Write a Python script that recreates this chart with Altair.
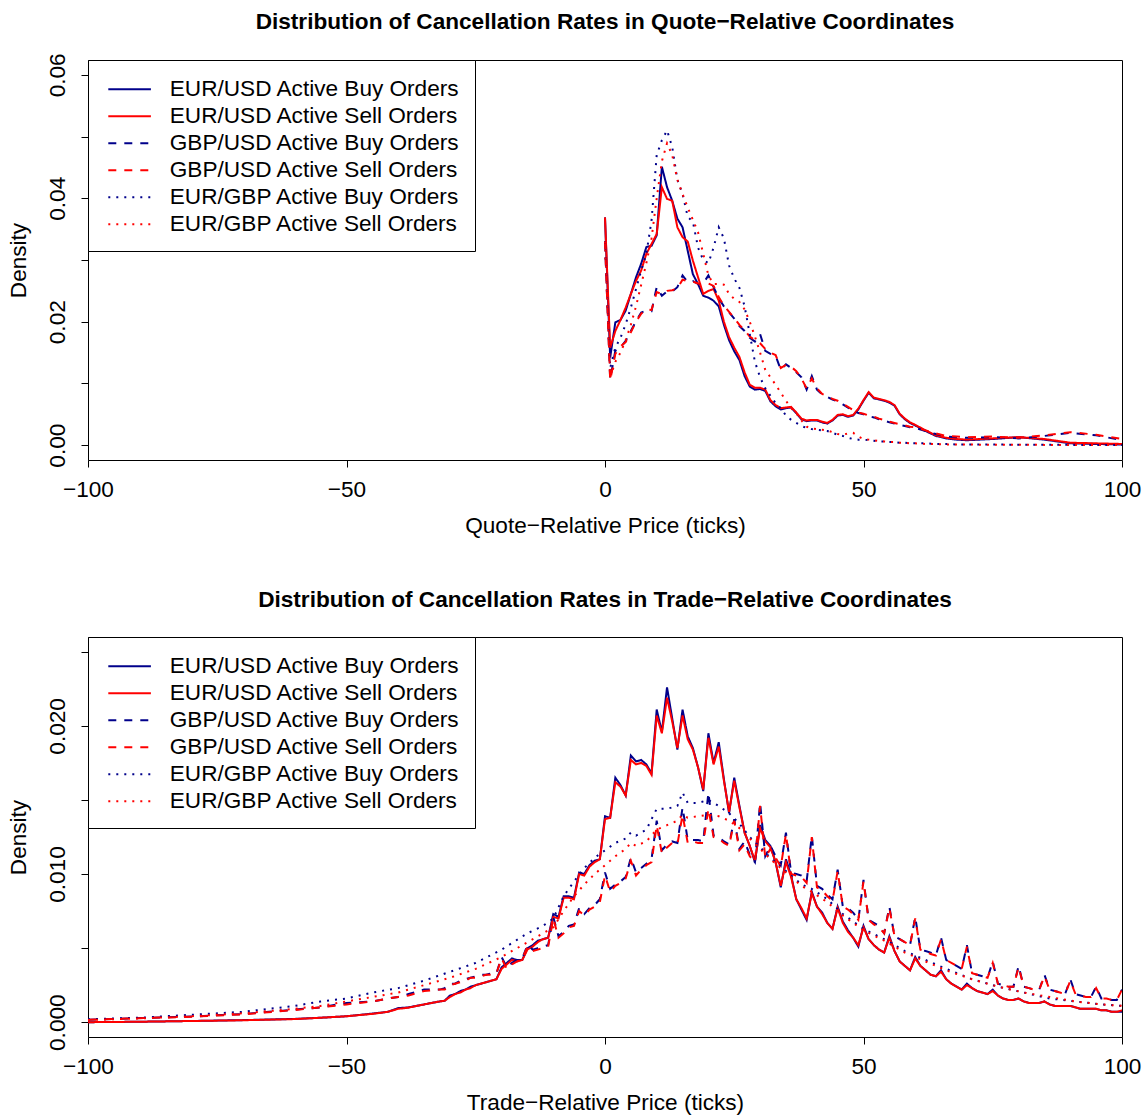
import altair as alt
import pandas as pd

SERIES = [
    "EUR/USD Active Buy Orders",
    "EUR/USD Active Sell Orders",
    "GBP/USD Active Buy Orders",
    "GBP/USD Active Sell Orders",
    "EUR/GBP Active Buy Orders",
    "EUR/GBP Active Sell Orders",
]
COLORS = ["#00008B", "#FF0000", "#00008B", "#FF0000", "#00008B", "#FF0000"]
DASHES = [[1, 0], [1, 0], [8, 8], [8, 8], [2, 6], [2, 6]]

# ---------------- Quote-relative panel ----------------
QX = [0, 1, 2, 3, 4, 5, 6, 7, 8, 9, 10, 11, 12, 13, 14, 15, 16, 17, 18, 19,
      20, 21, 22, 23, 24, 25, 26, 27, 28, 29, 30, 31, 32, 33, 34, 35, 36, 37, 38, 39,
      40, 41, 42, 43, 44, 45, 46, 47, 48, 49, 50, 51, 52, 53, 54, 55, 56, 57, 58, 59,
      60, 62, 64, 66, 68, 70, 75, 80, 85, 90, 95, 100]

q_eurusd_buy = [0.0369, 0.0142, 0.0199, 0.0203, 0.0218, 0.0245, 0.0272, 0.0294, 0.0321, 0.0323,
                0.0340, 0.0451, 0.0418, 0.0396, 0.0367, 0.0353, 0.0315, 0.0277, 0.0261, 0.0242,
                0.0239, 0.0234, 0.0225, 0.0195, 0.0170, 0.0152, 0.0138, 0.0112, 0.0095, 0.0090,
                0.0091, 0.0088, 0.0071, 0.0063, 0.0058, 0.0060, 0.0061, 0.0052, 0.0042, 0.0039,
                0.0040, 0.0040, 0.0037, 0.0035, 0.0040, 0.0048, 0.0049, 0.0046, 0.0048, 0.0058,
                0.0072, 0.0085, 0.0076, 0.0074, 0.0072, 0.0069, 0.0064, 0.0050, 0.0042, 0.0036,
                0.0032, 0.0023, 0.0015, 0.0011, 0.0009, 0.0008, 0.0010, 0.0013, 0.0009, 0.0003, 0.0002, 0.0001]
q_eurusd_sell = [0.0369, 0.0158, 0.0185, 0.0203, 0.0223, 0.0245, 0.0266, 0.0283, 0.0310, 0.0326,
                 0.0342, 0.0418, 0.0399, 0.0396, 0.0353, 0.0337, 0.0330, 0.0299, 0.0272, 0.0245,
                 0.0250, 0.0253, 0.0234, 0.0200, 0.0175, 0.0158, 0.0143, 0.0118, 0.0098, 0.0093,
                 0.0093, 0.0090, 0.0073, 0.0065, 0.0060, 0.0061, 0.0062, 0.0053, 0.0043, 0.0040,
                 0.0041, 0.0041, 0.0038, 0.0036, 0.0041, 0.0049, 0.0050, 0.0047, 0.0049, 0.0059,
                 0.0073, 0.0086, 0.0077, 0.0075, 0.0073, 0.0070, 0.0065, 0.0051, 0.0043, 0.0037,
                 0.0033, 0.0024, 0.0016, 0.0012, 0.0010, 0.0009, 0.0011, 0.0013, 0.0010, 0.0004, 0.0003, 0.0002]
q_gbpusd_buy = [0.0330, 0.0107, 0.0153, 0.0158, 0.0169, 0.0185, 0.0201, 0.0215, 0.0218, 0.0217,
                0.0256, 0.0242, 0.0249, 0.0249, 0.0256, 0.0275, 0.0264, 0.0266, 0.0261, 0.0262,
                0.0275, 0.0256, 0.0238, 0.0225, 0.0215, 0.0205, 0.0193, 0.0185, 0.0174, 0.0168,
                0.0180, 0.0153, 0.0148, 0.0145, 0.0122, 0.0131, 0.0125, 0.0118, 0.0110, 0.0090,
                0.0112, 0.0090, 0.0082, 0.0078, 0.0074, 0.0071, 0.0066, 0.0061, 0.0056, 0.0052,
                0.0050, 0.0047, 0.0045, 0.0042, 0.0040, 0.0037, 0.0035, 0.0033, 0.0031, 0.0029,
                0.0028, 0.0023, 0.0018, 0.0014, 0.0013, 0.0012, 0.0013, 0.0011, 0.0015, 0.0020, 0.0016, 0.0008]
q_gbpusd_sell = [0.0330, 0.0105, 0.0148, 0.0160, 0.0167, 0.0183, 0.0200, 0.0213, 0.0220, 0.0219,
                 0.0248, 0.0245, 0.0250, 0.0251, 0.0254, 0.0268, 0.0266, 0.0265, 0.0262, 0.0260,
                 0.0262, 0.0258, 0.0240, 0.0226, 0.0216, 0.0206, 0.0195, 0.0186, 0.0176, 0.0170,
                 0.0165, 0.0156, 0.0150, 0.0146, 0.0125, 0.0130, 0.0127, 0.0120, 0.0108, 0.0092,
                 0.0108, 0.0092, 0.0083, 0.0079, 0.0075, 0.0072, 0.0067, 0.0062, 0.0057, 0.0053,
                 0.0051, 0.0048, 0.0046, 0.0043, 0.0041, 0.0038, 0.0036, 0.0034, 0.0032, 0.0030,
                 0.0029, 0.0024, 0.0019, 0.0015, 0.0014, 0.0013, 0.0014, 0.0012, 0.0016, 0.0021, 0.0017, 0.0010]
q_eurgbp_buy = [0.0330, 0.0125, 0.0158, 0.0174, 0.0196, 0.0223, 0.0253, 0.0283, 0.0310, 0.0364,
                0.0470, 0.0494, 0.0510, 0.0483, 0.0430, 0.0407, 0.0370, 0.0362, 0.0320, 0.0300,
                0.0295, 0.0320, 0.0353, 0.0335, 0.0291, 0.0270, 0.0255, 0.0225, 0.0180, 0.0135,
                0.0110, 0.0092, 0.0080, 0.0068, 0.0060, 0.0048, 0.0041, 0.0036, 0.0031, 0.0028,
                0.0026, 0.0025, 0.0024, 0.0023, 0.0020, 0.0017, 0.0015, 0.0012, 0.0010, 0.0009,
                0.0009, 0.0008, 0.0007, 0.0006, 0.0006, 0.0005, 0.0005, 0.0004, 0.0004, 0.0003,
                0.0003, 0.0003, 0.0002, 0.0002, 0.0001, 0.0001, 0.0001, 0.00008, 0.00006, 0.00005, 0.00005, 0.00004]
q_eurgbp_sell = [0.0330, 0.0110, 0.0135, 0.0150, 0.0170, 0.0195, 0.0225, 0.0260, 0.0295, 0.0335,
                 0.0400, 0.0460, 0.0489, 0.0470, 0.0430, 0.0407, 0.0385, 0.0365, 0.0345, 0.0310,
                 0.0275, 0.0261, 0.0261, 0.0260, 0.0245, 0.0237, 0.0232, 0.0220, 0.0200, 0.0176,
                 0.0150, 0.0122, 0.0110, 0.0098, 0.0085, 0.0072, 0.0060, 0.0052, 0.0040, 0.0030,
                 0.0027, 0.0026, 0.0025, 0.0024, 0.0021, 0.0018, 0.0017, 0.0019, 0.0020, 0.0014,
                 0.0010, 0.0009, 0.0008, 0.0007, 0.0006, 0.0005, 0.0005, 0.0004, 0.0004, 0.0003,
                 0.0003, 0.0002, 0.0002, 0.0001, 0.0001, 0.0001, 0.00008, 0.00006, 0.00005, 0.00005, 0.00004, 0.00004]

# ---------------- Trade-relative panel ----------------
TX = [-100, -90, -80, -70, -60, -55, -50, -45, -42, -40, -38, -35, -32, -31] + list(range(-30, 101))

t_eurusd_buy = ([0.0000, 0.00003, 0.00008, 0.00014, 0.00022, 0.0003, 0.0004, 0.00058, 0.0007, 0.00095, 0.0010, 0.0012, 0.0014, 0.00145]
                + [0.0018, 0.0019, 0.0021, 0.0022, 0.0024, 0.0025, 0.0026, 0.0027, 0.0028, 0.0029]
                + [0.0037, 0.0040, 0.0043, 0.0042, 0.0042, 0.0050, 0.0052, 0.0055, 0.0056, 0.0057]
                + [0.0073, 0.0071, 0.0085, 0.0085, 0.0084, 0.0101, 0.0100, 0.0106, 0.0109, 0.0110]
                + [0.0139, 0.0138, 0.0165, 0.0160, 0.0153, 0.0180, 0.0176, 0.0177, 0.0174, 0.0168]
                + [0.0211, 0.0196, 0.0226, 0.0205, 0.0184, 0.0211, 0.0193, 0.0185, 0.0172, 0.0156]
                + [0.0195, 0.0175, 0.0189, 0.0164, 0.0141, 0.0165, 0.0146, 0.0128, 0.0119, 0.0108]
                + [0.0133, 0.0123, 0.0119, 0.0108, 0.0091, 0.0110, 0.0099, 0.0083, 0.0076, 0.0069]
                + [0.0088, 0.0078, 0.0074, 0.0067, 0.0063, 0.0078, 0.0068, 0.0062, 0.0057, 0.0051]
                + [0.0065, 0.0056, 0.0052, 0.0049, 0.0047, 0.0058, 0.0048, 0.0041, 0.0038, 0.0035]
                + [0.0044, 0.0038, 0.0035, 0.0032, 0.0031, 0.0035, 0.0029, 0.0026, 0.0024, 0.0022]
                + [0.0026, 0.0023, 0.0021, 0.0020, 0.0019, 0.0022, 0.0018, 0.0016, 0.0015, 0.0015]
                + [0.0016, 0.0014, 0.0013, 0.0013, 0.0013, 0.0014, 0.0012, 0.0011, 0.0011, 0.0011]
                + [0.0011, 0.0010, 0.0009, 0.0009, 0.0009, 0.0009, 0.0008, 0.0008, 0.0007, 0.0007, 0.0007])
t_eurusd_sell = ([0.0000, 0.00003, 0.00008, 0.00013, 0.00021, 0.0003, 0.0004, 0.00056, 0.0007, 0.0009, 0.00098, 0.0012, 0.0014, 0.00145]
                 + [0.0017, 0.0019, 0.0020, 0.0022, 0.0023, 0.0025, 0.0026, 0.0027, 0.0028, 0.0029]
                 + [0.0036, 0.0039, 0.0042, 0.0041, 0.0042, 0.0049, 0.0051, 0.0054, 0.0056, 0.0057]
                 + [0.0071, 0.0070, 0.0084, 0.0084, 0.0083, 0.0100, 0.0099, 0.0105, 0.0108, 0.0110]
                 + [0.0137, 0.0138, 0.0162, 0.0159, 0.0153, 0.0177, 0.0174, 0.0175, 0.0173, 0.0167]
                 + [0.0207, 0.0195, 0.0219, 0.0203, 0.0185, 0.0207, 0.0191, 0.0184, 0.0172, 0.0157]
                 + [0.0192, 0.0174, 0.0186, 0.0163, 0.0142, 0.0163, 0.0145, 0.0128, 0.0119, 0.0109]
                 + [0.0131, 0.0122, 0.0118, 0.0108, 0.0092, 0.0108, 0.0098, 0.0083, 0.0077, 0.0070]
                 + [0.0087, 0.0078, 0.0073, 0.0067, 0.0063, 0.0077, 0.0067, 0.0061, 0.0057, 0.0052]
                 + [0.0064, 0.0056, 0.0052, 0.0049, 0.0047, 0.0057, 0.0048, 0.0041, 0.0038, 0.0035]
                 + [0.0043, 0.0038, 0.0035, 0.0032, 0.0031, 0.0034, 0.0029, 0.0026, 0.0024, 0.0022]
                 + [0.0025, 0.0023, 0.0021, 0.0020, 0.0019, 0.0021, 0.0018, 0.0016, 0.0015, 0.0015]
                 + [0.0016, 0.0014, 0.0013, 0.0013, 0.0013, 0.0014, 0.0012, 0.0011, 0.0011, 0.0011]
                 + [0.0011, 0.0010, 0.0009, 0.0009, 0.0009, 0.0009, 0.0008, 0.0008, 0.0007, 0.0007, 0.0008])
t_gbpusd_buy = ([0.00017, 0.00028, 0.00038, 0.00055, 0.00085, 0.0010, 0.0013, 0.0014, 0.0016, 0.0017, 0.0019, 0.0022, 0.0022, 0.0023]
                + [0.0026, 0.0026, 0.0028, 0.0029, 0.0030, 0.0031, 0.0032, 0.0032, 0.0033, 0.0033]
                + [0.0044, 0.0037, 0.0040, 0.0042, 0.0043, 0.0052, 0.0049, 0.0050, 0.0051, 0.0052]
                + [0.0071, 0.0058, 0.0061, 0.0065, 0.0066, 0.0077, 0.0073, 0.0077, 0.0079, 0.0083]
                + [0.0101, 0.0090, 0.0093, 0.0095, 0.0098, 0.0111, 0.0101, 0.0104, 0.0107, 0.0110]
                + [0.0136, 0.0116, 0.0120, 0.0122, 0.0121, 0.0145, 0.0123, 0.0123, 0.0123, 0.0122]
                + [0.0155, 0.0126, 0.0125, 0.0122, 0.0120, 0.0137, 0.0117, 0.0122, 0.0113, 0.0108]
                + [0.0148, 0.0112, 0.0119, 0.0112, 0.0106, 0.0128, 0.0101, 0.0100, 0.0099, 0.0095]
                + [0.0126, 0.0092, 0.0090, 0.0086, 0.0083, 0.0103, 0.0078, 0.0077, 0.0074, 0.0069]
                + [0.0096, 0.0069, 0.0067, 0.0065, 0.0060, 0.0078, 0.0058, 0.0056, 0.0054, 0.0052]
                + [0.0071, 0.0049, 0.0048, 0.0047, 0.0045, 0.0057, 0.0042, 0.0040, 0.0038, 0.0036]
                + [0.0052, 0.0033, 0.0032, 0.0031, 0.0030, 0.0041, 0.0026, 0.0025, 0.0024, 0.0024]
                + [0.0038, 0.0024, 0.0023, 0.0022, 0.0022, 0.0032, 0.0022, 0.0021, 0.0020, 0.0019]
                + [0.0029, 0.0019, 0.0018, 0.0017, 0.0017, 0.0024, 0.0016, 0.0016, 0.0015, 0.0015, 0.0022])
t_gbpusd_sell = ([0.00016, 0.00027, 0.00037, 0.00053, 0.00082, 0.0010, 0.0012, 0.0014, 0.0016, 0.0017, 0.0018, 0.0021, 0.0022, 0.0022]
                 + [0.0025, 0.0026, 0.0027, 0.0028, 0.0030, 0.0030, 0.0031, 0.0032, 0.0032, 0.0033]
                 + [0.0043, 0.0036, 0.0039, 0.0041, 0.0043, 0.0051, 0.0048, 0.0049, 0.0050, 0.0051]
                 + [0.0070, 0.0057, 0.0060, 0.0064, 0.0065, 0.0075, 0.0072, 0.0076, 0.0078, 0.0081]
                 + [0.0099, 0.0088, 0.0092, 0.0094, 0.0097, 0.0109, 0.0099, 0.0103, 0.0106, 0.0108]
                 + [0.0133, 0.0114, 0.0118, 0.0121, 0.0120, 0.0140, 0.0121, 0.0122, 0.0121, 0.0121]
                 + [0.0144, 0.0125, 0.0124, 0.0121, 0.0119, 0.0136, 0.0116, 0.0120, 0.0112, 0.0108]
                 + [0.0146, 0.0111, 0.0117, 0.0111, 0.0105, 0.0127, 0.0100, 0.0099, 0.0098, 0.0094]
                 + [0.0125, 0.0091, 0.0089, 0.0085, 0.0082, 0.0102, 0.0078, 0.0076, 0.0073, 0.0069]
                 + [0.0095, 0.0069, 0.0066, 0.0064, 0.0060, 0.0077, 0.0058, 0.0056, 0.0054, 0.0052]
                 + [0.0070, 0.0049, 0.0048, 0.0046, 0.0045, 0.0056, 0.0042, 0.0040, 0.0038, 0.0036]
                 + [0.0051, 0.0033, 0.0032, 0.0031, 0.0030, 0.0040, 0.0026, 0.0025, 0.0024, 0.0024]
                 + [0.0037, 0.0024, 0.0023, 0.0022, 0.0022, 0.0031, 0.0022, 0.0021, 0.0020, 0.0019]
                 + [0.0028, 0.0019, 0.0018, 0.0017, 0.0017, 0.0023, 0.0016, 0.0016, 0.0015, 0.0015, 0.0022])

TXD = [-100, -90, -80, -70, -60, -55, -50, -45, -40, -35, -30, -25, -20, -15,
       -12, -10, -8, -6, -4, -2, 0, 2, 4, 5, 6, 8, 10, 12, 14, 15, 16, 18,
       20, 22, 24, 26, 28, 30, 32, 34, 36, 38, 40, 43, 46, 50, 54, 58, 62, 66,
       71, 76, 81, 86, 91, 96, 100]
t_eurgbp_buy = [0.0002, 0.0003, 0.0005, 0.0007, 0.0011, 0.0014, 0.0016, 0.0020, 0.0023, 0.0028,
                0.0034, 0.0040, 0.0049, 0.0060,
                0.0065, 0.0070, 0.0085, 0.0095, 0.0104, 0.0111,
                0.0116, 0.0121, 0.0124, 0.0128, 0.0126, 0.0130,
                0.0144, 0.0144, 0.0146, 0.0155, 0.0148, 0.0148,
                0.0150, 0.0146, 0.0141, 0.0134, 0.0125,
                0.0118, 0.0111, 0.0105, 0.0099, 0.0093,
                0.0090, 0.0083, 0.0073,
                0.0063, 0.0056, 0.0048,
                0.0042, 0.0036,
                0.0029, 0.0024, 0.0020, 0.0016, 0.0014, 0.0012, 0.0011]
t_eurgbp_sell = [0.00015, 0.00025, 0.0004, 0.0006, 0.0009, 0.0011, 0.0014, 0.0017, 0.0020, 0.0025,
                 0.0030, 0.0036, 0.0044, 0.0054,
                 0.0060, 0.0064, 0.0075, 0.0085, 0.0093, 0.0100,
                 0.0106, 0.0112, 0.0117, 0.0121, 0.0119, 0.0122,
                 0.0130, 0.0133, 0.0136, 0.0140, 0.0138, 0.0139,
                 0.0140, 0.0139, 0.0136, 0.0131, 0.0124,
                 0.0117, 0.0110, 0.0104, 0.0098, 0.0092,
                 0.0088, 0.0081, 0.0072,
                 0.0062, 0.0055, 0.0047,
                 0.0041, 0.0035,
                 0.0029, 0.0024, 0.0020, 0.0017, 0.0014, 0.0012, 0.0011]


def frame(xs_list, ys_list):
    rows = []
    for name, xs, ys in zip(SERIES, xs_list, ys_list):
        for i, (x, y) in enumerate(zip(xs, ys)):
            rows.append({"series": name, "x": x, "y": y, "order": i})
    return pd.DataFrame(rows)


quote_df = frame([QX] * 6, [q_eurusd_buy, q_eurusd_sell, q_gbpusd_buy, q_gbpusd_sell, q_eurgbp_buy, q_eurgbp_sell])
trade_df = frame([TX, TX, TX, TX, TXD, TXD],
                 [t_eurusd_buy, t_eurusd_sell, t_gbpusd_buy, t_gbpusd_sell, t_eurgbp_buy, t_eurgbp_sell])

FONT = "Liberation Sans"
FS = 22.6


def panel(df, title, title_offset, xtitle, ydomain, yvalues, yfmt, label_expr):
    legend = alt.Legend(
        title=None, orient="top-left", offset=0, fillColor="white", strokeColor="black",
        padding=14.3, labelFontSize=FS, labelFont=FONT, labelColor="black", labelLimit=0,
        symbolType="M-1.555,0H1.555", symbolSize=751, symbolStrokeWidth=2, labelOffset=25.2,
        symbolOffset=12.3, rowPadding=0, cornerRadius=0,
    )
    return alt.Chart(df).mark_line(strokeWidth=2, clip=True).encode(
        x=alt.X("x:Q", scale=alt.Scale(domain=[-100, 100], nice=False, zero=False),
                axis=alt.Axis(values=[-100, -50, 0, 50, 100], title=xtitle, tickSize=7,
                              labelPadding=11, titlePadding=14, grid=False, domain=False,
                              labelFlush=False, labelOverlap=False)),
        y=alt.Y("y:Q", scale=alt.Scale(domain=ydomain, nice=False, zero=False),
                axis=alt.Axis(values=yvalues, format=yfmt, labelExpr=label_expr, title="Density",
                              tickSize=7, labelAngle=270, labelAlign="center", labelBaseline="bottom",
                              labelPadding=12, titlePadding=16, grid=False, domain=False,
                              labelFlush=False, labelOverlap=False)),
        color=alt.Color("series:N", scale=alt.Scale(domain=SERIES, range=COLORS), legend=legend),
        strokeDash=alt.StrokeDash("series:N", scale=alt.Scale(domain=SERIES, range=DASHES), legend=legend),
        order="order:Q",
    ).properties(
        width=1034, height=400,
        title=alt.TitleParams(title, fontSize=FS, fontWeight="bold", font=FONT, anchor="middle",
                              frame="group", baseline="alphabetic", offset=title_offset, color="black"),
    )


top = panel(quote_df, "Distribution of Cancellation Rates in Quote\u2212Relative Coordinates", 1,
            "Quote\u2212Relative Price (ticks)", [-0.0024, 0.0624],
            [0, 0.01, 0.02, 0.03, 0.04, 0.05, 0.06], ".2f",
            "round(datum.value * 100) % 2 == 0 ? datum.label : ''")
bottom = panel(trade_df, "Distribution of Cancellation Rates in Trade\u2212Relative Coordinates", 7,
               "Trade\u2212Relative Price (ticks)", [-0.001, 0.026],
               [0, 0.005, 0.01, 0.015, 0.02, 0.025], ".3f",
               "round(datum.value * 1000) % 10 == 0 ? datum.label : ''")

chart = alt.vconcat(top, bottom, spacing=50).resolve_scale(
    color="independent", strokeDash="independent"
).resolve_legend(
    color="independent", strokeDash="independent"
).configure(
    font=FONT, padding={"left": 6, "top": 10, "right": 2, "bottom": 2}, background="white"
).configure_view(
    stroke="black", strokeWidth=1
).configure_axis(
    labelFont=FONT, titleFont=FONT, labelFontSize=FS, titleFontSize=FS, labelColor="black",
    titleColor="black", tickColor="black", titleFontWeight="normal"
)

chart.save("out.html", embed_options={"renderer": "svg", "actions": False})
